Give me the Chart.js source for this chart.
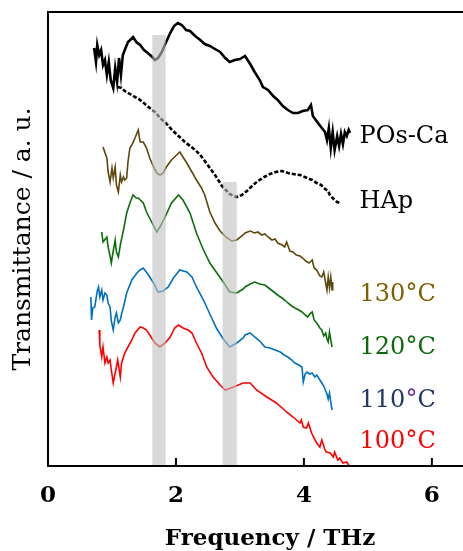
<!DOCTYPE html>
<html>
<head>
<meta charset="utf-8">
<script src="https://cdn.jsdelivr.net/npm/chart.js@4.4.0/dist/chart.umd.min.js"></script>
<style>
  html, body { margin: 0; padding: 0; background: #fff; overflow: hidden; }
  #wrap { width: 463px; height: 551px; overflow: hidden; }
</style>
</head>
<body>
<!-- the plot box runs past the right edge of the picture, so the canvas is wider than the page -->
<div id="wrap"><canvas id="chart" width="492" height="551"></canvas></div>
<script>
// Frequency (THz) / transmittance (a.u., curves stacked with offsets)
const posFreq = [0.72,0.75,0.77,0.80,0.83,0.86,0.89,0.92,0.95,0.98,1.02,1.05,1.08,1.11,1.14,1.17,1.20,1.25,1.30,1.33,1.38,1.44,1.50,1.56,1.63,1.67,1.72,1.78,1.84,1.91,1.97,2.03,2.09,2.16,2.22,2.30,2.38,2.45,2.53,2.61,2.69,2.77,2.84,2.92,3.00,3.08,3.16,3.23,3.31,3.36,3.44,3.52,3.59,3.67,3.75,3.83,3.91,3.98,4.06,4.11,4.14,4.22,4.28,4.33,4.36,4.39,4.42,4.45,4.48,4.52,4.55,4.58,4.61,4.64,4.67,4.70,4.72];
const posVal  = [418,404,421,411,416,401,406,391,404,386,378,398,384,408,391,411,416,424,427,429,424,421,416,413,409,406,408,414,423,433,440,443,441,436,435,430,426,422,420,417,414,408,404,406,407,410,402,394,386,379,376,370,366,360,356,353,353,355,356,361,350,343,338,334,326,338,318,334,316,330,320,332,322,334,330,336,333];

const hapFreq = [1.09,1.15,1.20,1.28,1.36,1.42,1.48,1.55,1.63,1.69,1.75,1.84,1.94,2.04,2.14,2.22,2.30,2.38,2.45,2.53,2.61,2.67,2.73,2.78,2.84,2.90,2.95,3.03,3.11,3.19,3.28,3.38,3.47,3.56,3.66,3.75,3.83,3.94,4.05,4.13,4.20,4.27,4.33,4.38,4.41,4.45,4.48,4.52,4.56];
const hapVal  = [379,378,375,372,369,367,364,360,356,353,348,343,336,330,324,320,316,311,305,298,291,285,279,276,272,270,269,271,275,280,285,289,292,294,295,293,292,291,288,286,283,281,277,275,270,268,266,264,263];

const t130Freq = [0.86,0.92,0.94,0.97,1.00,1.02,1.05,1.07,1.10,1.13,1.15,1.18,1.20,1.23,1.25,1.28,1.31,1.36,1.41,1.44,1.49,1.54,1.59,1.65,1.70,1.75,1.80,1.85,1.93,2.01,2.06,2.11,2.17,2.25,2.32,2.40,2.45,2.53,2.61,2.69,2.78,2.87,2.95,3.05,3.08,3.16,3.23,3.28,3.34,3.39,3.44,3.50,3.55,3.59,3.66,3.70,3.73,3.78,3.83,3.88,3.94,3.98,4.03,4.08,4.13,4.16,4.20,4.25,4.28,4.31,4.34,4.36,4.38,4.40,4.42,4.44,4.45];
const t130Val  = [319,308,294,284,298,288,299,281,274,291,284,289,286,288,304,318,321,328,336,324,324,318,308,299,293,291,293,299,306,311,314,309,303,294,286,278,271,254,243,235,229,225,226,231,233,235,233,234,231,232,229,226,227,223,221,219,224,215,214,211,210,208,205,203,206,198,196,190,189,194,183,176,189,178,189,176,184];

const t120Freq = [0.84,0.86,0.92,0.94,0.97,0.99,1.02,1.05,1.07,1.10,1.13,1.18,1.23,1.28,1.33,1.38,1.41,1.49,1.54,1.62,1.70,1.75,1.83,1.93,2.04,2.11,2.22,2.32,2.43,2.53,2.64,2.74,2.84,2.95,3.05,3.08,3.16,3.23,3.31,3.39,3.47,3.55,3.61,3.66,3.70,3.75,3.81,3.86,3.92,3.97,4.02,4.06,4.09,4.13,4.16,4.20,4.25,4.28,4.31,4.34,4.36,4.38,4.40,4.42,4.44];
const t120Val  = [234,224,229,219,210,203,215,226,214,209,221,236,253,263,271,268,268,263,254,244,234,239,249,263,271,266,253,233,216,203,193,184,174,173,177,179,182,184,182,181,177,173,170,168,166,163,160,158,156,154,151,149,152,154,146,143,138,136,130,133,127,124,134,126,119];

const t110Freq = [0.67,0.68,0.70,0.73,0.77,0.79,0.81,0.84,0.86,0.89,0.92,0.94,0.97,0.99,1.02,1.05,1.07,1.10,1.13,1.15,1.18,1.23,1.31,1.39,1.44,1.49,1.57,1.65,1.72,1.80,1.88,1.96,2.06,2.17,2.25,2.32,2.43,2.53,2.64,2.74,2.84,2.95,3.05,3.08,3.16,3.23,3.31,3.39,3.47,3.55,3.63,3.69,3.75,3.81,3.86,3.92,3.97,3.99,4.02,4.05,4.09,4.13,4.17,4.20,4.25,4.28,4.31,4.34,4.36,4.38,4.40,4.42,4.44];
const t110Val  = [169,146,158,159,175,179,169,176,166,173,171,163,159,145,136,149,153,143,146,152,159,173,186,193,196,198,191,183,174,175,179,188,196,194,189,179,166,152,137,127,119,123,128,131,133,129,125,119,118,116,114,111,109,106,103,101,99,84,92,94,92,93,89,91,86,83,80,75,72,67,73,64,56];

const t100Freq = [0.80,0.81,0.84,0.86,0.89,0.92,0.94,0.97,0.99,1.02,1.06,1.09,1.13,1.15,1.20,1.25,1.31,1.36,1.44,1.49,1.54,1.59,1.67,1.75,1.83,1.91,1.98,2.04,2.11,2.19,2.25,2.32,2.40,2.48,2.58,2.69,2.77,2.90,3.05,3.16,3.26,3.42,3.57,3.73,3.83,3.94,3.96,3.99,4.04,4.07,4.12,4.15,4.20,4.25,4.28,4.33,4.35,4.41,4.46,4.48,4.53,4.56,4.61,4.67,4.72,4.77];
const t100Val  = [136,121,109,119,103,109,103,106,96,83,96,106,89,103,113,119,126,133,139,138,136,131,123,119,123,129,138,141,138,136,133,123,113,99,89,81,76,79,83,83,76,69,63,54,49,43,46,39,38,43,33,29,23,19,26,16,14,13,9,14,6,8,3,4,-1,-1];

const seriesNames  = ['POs-Ca', 'HAp', '130°C', '120°C', '110°C', '100°C'];
const seriesColors = ['#000000', '#000000', '#5c470c', '#0d6d0d', '#0070c0', '#ff0000'];
const labelColors  = ['#000000', '#000000', '#7f6000', '#0b6b0b', '#1f3864', '#ff0000'];
const labelY = [329, 264, 171, 118, 65, 24];
const labelX = 4.87;

const xTicks = [0, 2, 4, 6];
// absorption bands (THz) shaded in grey
const bandFrom = [1.63, 2.73];
const bandTo   = [1.84, 2.95];
const bandTop  = [431, 284];

const pts = (fx, fy) => fx.map((f, i) => ({ x: f, y: fy[i] }));
const curves = [
  pts(posFreq, posVal), pts(hapFreq, hapVal), pts(t130Freq, t130Val),
  pts(t120Freq, t120Val), pts(t110Freq, t110Val), pts(t100Freq, t100Val),
];

const FONT = '"DejaVu Serif", "Liberation Serif", serif';

const overlay = {
  id: 'overlay',
  afterDatasetsDraw(chart) {
    const { ctx, chartArea: a, scales: { x, y } } = chart;
    ctx.save();
    ctx.fillStyle = 'rgba(192,192,192,0.6)';
    bandFrom.forEach((f, i) => {
      const l = x.getPixelForValue(f), r = x.getPixelForValue(bandTo[i]);
      const t = y.getPixelForValue(bandTop[i]);
      ctx.fillRect(l, t, r - l, a.bottom - t + 1);
    });

    // box: top, left and bottom; the right side is cut off
    ctx.strokeStyle = '#000';
    ctx.lineWidth = 2;
    ctx.beginPath();
    ctx.moveTo(a.right, a.top);
    ctx.lineTo(a.left, a.top);
    ctx.lineTo(a.left, a.bottom);
    ctx.lineTo(a.right, a.bottom);
    ctx.stroke();

    // tick marks point inwards
    ctx.beginPath();
    xTicks.forEach(v => {
      if (!v) return;
      const px = x.getPixelForValue(v);
      ctx.moveTo(px, a.bottom);
      ctx.lineTo(px, a.bottom - 8);
    });
    ctx.stroke();

    // series names next to the curve ends
    ctx.font = '24px ' + FONT;
    ctx.textBaseline = 'middle';
    ctx.textAlign = 'left';
    seriesNames.forEach((name, i) => {
      let px = x.getPixelForValue(labelX);
      const py = y.getPixelForValue(labelY[i]);
      name.split(/(°)/).forEach(part => {
        if (!part) return;
        ctx.fillStyle = part === '°' && i === 4 ? '#7030a0' : labelColors[i];
        ctx.fillText(part, px, py);
        px += ctx.measureText(part).width;
      });
    });
    ctx.restore();
  }
};

new Chart(document.getElementById('chart'), {
  type: 'line',
  data: {
    datasets: curves.map((d, i) => ({
      label: seriesNames[i],
      data: d,
      borderColor: seriesColors[i],
      borderWidth: i < 2 ? 2.6 : 1.6,
      borderDash: i === 1 ? [4, 2] : [],
      pointRadius: 0,
      tension: 0,
      fill: false,
    })),
  },
  options: {
    responsive: false,
    animation: false,
    devicePixelRatio: 1,
    layout: { padding: { top: 12, right: 0, left: 0, bottom: 0 } },
    plugins: { legend: { display: false }, tooltip: { enabled: false } },
    scales: {
      x: {
        type: 'linear',
        min: 0,
        max: 6.94,
        afterBuildTicks: s => { s.ticks = xTicks.map(v => ({ value: v })); },
        afterFit: s => { s.height = 85; },
        grid: { display: false, drawTicks: false },
        border: { display: false },
        ticks: { color: '#000', padding: 16, font: { family: FONT, size: 23, weight: 'bold' } },
        title: {
          display: true, text: 'Frequency / THz', color: '#000',
          padding: 0, font: { family: FONT, size: 23, weight: 'bold', lineHeight: 1 },
        },
      },
      y: {
        min: 0,
        max: 454,
        afterFit: s => { s.width = 48; },
        grid: { display: false, drawTicks: false },
        border: { display: false },
        ticks: { display: false },
        title: {
          display: true, text: 'Transmittance / a. u.', color: '#000',
          padding: { top: 8 }, font: { family: FONT, size: 25, lineHeight: 1.2 },
        },
      },
    },
  },
  plugins: [overlay],
});
</script>
</body>
</html>
